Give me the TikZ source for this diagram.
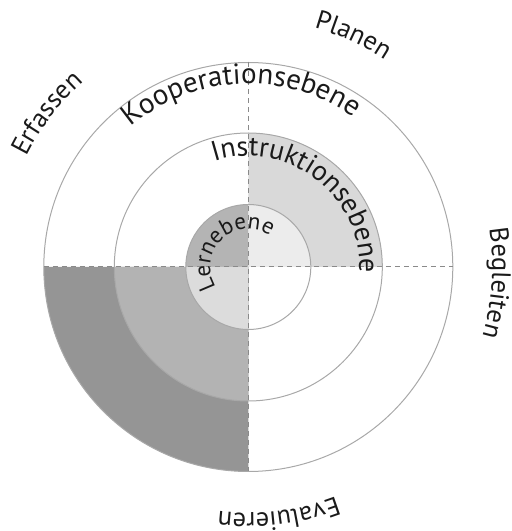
\documentclass[tikz,border=0pt]{standalone}
\usepackage{fontspec}
\setmainfont{PT Sans}
\usetikzlibrary{decorations.text}
\definecolor{ringline}{HTML}{A8A8A8}
\definecolor{dashgray}{HTML}{8A8A8A}
\definecolor{outerdark}{HTML}{959595}
\definecolor{middark}{HTML}{B3B3B3}
\definecolor{midlight}{HTML}{D9D9D9}
\definecolor{innerul}{HTML}{B4B4B4}
\definecolor{innerur}{HTML}{ECECEC}
\definecolor{innerll}{HTML}{DCDCDC}
\definecolor{textcol}{HTML}{1A1A1A}
\tikzset{
  ringcircle/.style={draw=ringline,line width=1pt},
  dashline/.style={draw=dashgray,line width=1pt,dash pattern=on 5pt off 4pt},
  arclabel/.style={decorate,decoration={text along path,text align=center,text color=textcol,text={#1}}}
}
\begin{document}
\begin{tikzpicture}[x=1pt,y=1pt]
\useasboundingbox (0,0) rectangle (512,531);
\coordinate (c) at (248.3,264);
% fills
\fill[outerdark] (c) -- ([shift={(180:204.5)}]c) arc[start angle=180,end angle=270,radius=204.5] -- cycle;
\fill[middark] (c) -- ([shift={(180:134)}]c) arc[start angle=180,end angle=270,radius=134] -- cycle;
\fill[midlight] (c) -- ([shift={(0:134)}]c) arc[start angle=0,end angle=90,radius=134] -- cycle;
\fill[innerul] (c) -- ([shift={(90:62.5)}]c) arc[start angle=90,end angle=180,radius=62.5] -- cycle;
\fill[innerur] (c) -- ([shift={(0:62.5)}]c) arc[start angle=0,end angle=90,radius=62.5] -- cycle;
\fill[innerll] (c) -- ([shift={(180:62.5)}]c) arc[start angle=180,end angle=270,radius=62.5] -- cycle;
% circles
\draw[ringcircle] (c) circle[radius=204.5];
\draw[ringcircle] (c) circle[radius=134];
\draw[ringcircle] (c) circle[radius=62.5];
% dashed axes
\coordinate (west) at ([shift={(180:204.5)}]c);
\coordinate (east) at ([shift={(0:204.5)}]c);
\coordinate (north) at ([shift={(90:204.5)}]c);
\coordinate (south) at ([shift={(270:204.5)}]c);
\draw[dashline] (west) -- (east);
\draw[dashline] (north) -- (south);
% ring labels
\path[arclabel={|\fontsize{29}{32}\selectfont|Kooperationsebene}]
  ([shift={(162.5:183)}]c) arc[start angle=162.5,end angle=22.5,radius=183];
\path[arclabel={|\fontsize{28}{32}\selectfont|Instruktionsebene}]
  ([shift={(132.5:111)}]c) arc[start angle=132.5,end angle=-27.5,radius=111];
\path[arclabel={|\fontsize{23}{26}\selectfont|Lernebene}]
  ([shift={(223.5:38)}]c) arc[start angle=223.5,end angle=43.5,radius=38];
% outer labels
\path[arclabel={|\fontsize{26.5}{30}\selectfont|Erfassen}]
  ([shift={(182.6:248)}]c) arc[start angle=182.6,end angle=102.6,radius=248];
\path[arclabel={|\fontsize{26.5}{30}\selectfont|Planen}]
  ([shift={(105.6:248)}]c) arc[start angle=105.6,end angle=25.6,radius=248];
\path[arclabel={|\fontsize{26.5}{30}\selectfont|Begleiten}]
  ([shift={(36.3:244)}]c) arc[start angle=36.3,end angle=-43.7,radius=244];
\path[arclabel={|\fontsize{26.5}{30}\selectfont|Evaluieren}]
  ([shift={(-43:246)}]c) arc[start angle=-43,end angle=-123,radius=246];
\end{tikzpicture}
\end{document}
